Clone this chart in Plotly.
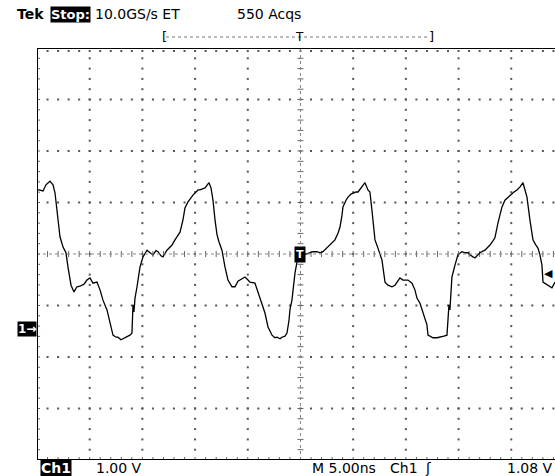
import plotly.graph_objects as go

# ---- acquisition settings (from the readout) ----
TIME_PER_DIV_NS = 5.0
VOLTS_PER_DIV = 1.0
CH1_POSITION_DIV = -1.456      # channel-1 ground marker, divisions from centre
TRIGGER_LEVEL_V = 1.08
X_RANGE_NS = [-25.0, 24.15]    # visible part of the 10-division record
Y_RANGE_DIV = [-4.0, 4.0]

# ---- channel 1 waveform ----
time_ns = [
    -25.00, -24.81, -24.43, -24.15, -23.77, -23.48, -23.29, -23.10, -22.82, -22.53,
    -22.25, -22.06, -21.77, -21.49, -21.21, -20.92, -20.54, -20.26, -19.97, -19.69,
    -19.31, -19.02, -18.74, -18.36, -18.07, -17.79, -17.50, -17.32, -17.03, -16.84,
    -16.46, -16.18, -15.99, -15.89, -15.80, -15.70, -15.51, -15.23, -14.94, -14.56,
    -14.28, -13.99, -13.71, -13.52, -13.24, -13.05, -12.67, -12.19, -11.91, -11.43,
    -11.15, -10.96, -10.67, -10.20, -9.72, -9.54, -9.06, -8.68,
    -8.49, -8.30, -8.11, -7.92, -7.73, -7.45, -7.16, -6.88, -6.50, -6.21,
    -5.93, -5.55, -5.27, -4.98, -4.79, -4.32, -4.03, -3.65, -3.37, -3.08,
    -2.70, -2.42, -2.23, -1.94, -1.76, -1.47, -1.28, -1.09, -1.00, -0.81,
    -0.52, -0.24, 0.05, 0.24, 0.62, 0.90, 1.19, 1.57, 1.85, 2.13,
    2.61, 2.99, 3.27, 3.56, 3.75, 3.94, 4.03, 4.32, 4.51, 4.79,
    4.98, 5.27, 5.46, 5.74, 5.93, 6.12,
    6.40, 6.59, 6.78, 7.07, 7.35, 7.73, 8.02, 8.30, 8.68, 8.97,
    9.44, 9.72, 10.20, 10.58, 10.86, 11.05, 11.34, 11.62, 12.00, 12.10,
    12.38, 12.57, 12.95, 13.24, 13.61, 13.90, 13.99, 14.09, 14.18, 14.28,
    14.37, 14.66, 14.94, 15.32, 15.61, 15.89, 16.08, 16.37, 16.56, 16.84,
    17.03, 17.50, 17.98, 18.26, 18.45, 18.74, 19.12, 19.40, 19.88, 20.26,
    20.54, 20.83, 21.11,
    21.30, 21.49, 21.77, 22.06, 22.34, 22.53, 22.72, 22.91, 23.01, 23.29,
    23.48, 23.86, 24.15,
]
ch1_volts = [
    2.70, 2.70, 2.68, 2.80, 2.87, 2.80, 2.64, 2.25, 1.79, 1.59,
    1.48, 1.20, 0.85, 0.72, 0.82, 0.83, 0.87, 0.95, 0.99, 0.89,
    0.91, 0.76, 0.56, 0.37, 0.14, -0.12, -0.16, -0.16, -0.21, -0.19,
    -0.14, -0.12, -0.08, 0.47, 0.33, 0.60, 0.82, 1.20, 1.40, 1.53,
    1.48, 1.44, 1.52, 1.50, 1.42, 1.40, 1.53, 1.63, 1.73, 1.88,
    2.12, 2.35, 2.47, 2.60, 2.70, 2.70, 2.74, 2.84,
    2.74, 2.50, 2.12, 1.83, 1.69, 1.53, 1.20, 0.95, 0.82, 0.82,
    0.93, 0.97, 1.01, 0.95, 0.91, 0.89, 0.70, 0.50, 0.31, 0.04,
    -0.12, -0.17, -0.16, -0.19, -0.16, -0.14, -0.08, 0.17, 0.37, 0.56,
    1.09, 1.40, 1.42, 1.44, 1.46, 1.48, 1.50, 1.50, 1.48, 1.50,
    1.59, 1.67, 1.73, 1.86, 1.98, 2.21, 2.37, 2.50, 2.56, 2.62,
    2.64, 2.66, 2.66, 2.74, 2.80, 2.84,
    2.70, 2.66, 2.31, 1.73, 1.57, 1.34, 0.91, 0.85, 0.82, 0.85,
    0.99, 0.95, 0.95, 0.89, 0.76, 0.60, 0.50, 0.31, 0.08, -0.12,
    -0.16, -0.17, -0.17, -0.16, -0.14, -0.12, 0.23, 0.47, 0.37, 0.76,
    1.01, 1.24, 1.44, 1.50, 1.48, 1.48, 1.44, 1.40, 1.38, 1.44,
    1.48, 1.53, 1.63, 1.71, 1.77, 2.06, 2.37, 2.50, 2.60, 2.66,
    2.70, 2.76, 2.84,
    2.70, 2.56, 2.12, 1.73, 1.63, 1.57, 1.44, 1.24, 0.91, 0.87,
    0.85, 0.80, 0.91,
]

# ---- readout texts ----
header_brand = "Tek"
header_state = "Stop:"
header_rate = "10.0GS/s ET"
header_acqs = "550 Acqs"
footer_channel = "Ch1"
footer_scale = "1.00 V"
footer_timebase = "M 5.00ns"
footer_trig_src = "Ch1"
footer_trig_slope = "\u0283"
footer_trig_level = "1.08 V"

W, H = 555, 476
ML, MR, MT, MB = 37, 0, 48, 16
FONT = "DejaVu Sans"

fig = go.Figure()

ns_per_div = TIME_PER_DIV_NS
x0, x1 = X_RANGE_NS
y0, y1 = Y_RANGE_DIV
px_per_ns = (W - ML - MR) / (x1 - x0)
px_per_div_y = (H - MT - MB) / (y1 - y0)
tick_ns = 3.0 / px_per_ns
tick_div = 3.0 / px_per_div_y

# graticule dots
gx, gy = [], []
for k in range(-4, 5):
    if k == 0:
        continue
    for j in range(-19, 20):
        gx.append(k * ns_per_div)
        gy.append(j * 0.2)
for k in range(-3, 4):
    if k == 0:
        continue
    for i in range(-24, 25):
        gx.append(i * ns_per_div / 5)
        gy.append(k)
for i in range(-24, 25):
    gx.append(i * ns_per_div / 5)
    gy.append(y1 - tick_div)
fig.add_trace(go.Scatter(x=gx, y=gy, mode="markers",
                         marker=dict(symbol="square", size=2, color="#555555", line=dict(width=0)),
                         hoverinfo="skip", showlegend=False))

# centre-line and frame minor ticks
tx, ty = [], []
for i in range(-24, 25):
    t = i * ns_per_div / 5
    tx += [t, t, None]
    ty += [-tick_div, tick_div, None]
    tx += [t, t, None]
    ty += [y0, y0 + tick_div, None]
for j in range(-19, 20):
    v = j * 0.2
    tx += [-tick_ns, tick_ns, None]
    ty += [v, v, None]
    tx += [x0, x0 + tick_ns, None]
    ty += [v, v, None]
fig.add_trace(go.Scatter(x=tx, y=ty, mode="lines", line=dict(color="#666666", width=1),
                         hoverinfo="skip", showlegend=False))

shapes = []
shapes.append(dict(type="line", xref="x", yref="y", x0=x0, x1=x1, y0=0, y1=0,
                   line=dict(color="#888888", width=1, dash="dot")))
shapes.append(dict(type="line", xref="x", yref="y", x0=0, x1=0, y0=y0, y1=y1,
                   line=dict(color="#888888", width=1, dash="dot")))
for xa, xb, ya, yb in [(x0, x1, y1, y1), (x0, x1, y0, y0), (x0, x0, y0, y1)]:
    shapes.append(dict(type="line", xref="x", yref="y", x0=xa, x1=xb, y0=ya, y1=yb,
                       line=dict(color="black", width=2)))

# waveform
trace_y = [v / VOLTS_PER_DIV + CH1_POSITION_DIV for v in ch1_volts]
fig.add_trace(go.Scatter(x=time_ns, y=trace_y, mode="lines",
                         line=dict(color="black", width=1.3),
                         hoverinfo="skip", showlegend=False))

def px_x(px):
    return (px - ML) / (W - ML - MR)

def px_y(py):
    return (H - MB - py) / (H - MT - MB)

ann = []
def txt(text, px, py, size=14, color="black", bg=None, bold=False, anchor="left"):
    ann.append(dict(text=("<b>%s</b>" % text) if bold else text, xref="paper", yref="paper",
                    x=px_x(px), y=px_y(py), xanchor=anchor, yanchor="middle", showarrow=False,
                    font=dict(family=FONT, size=size, color=color),
                    bgcolor=bg, borderpad=0))

txt(header_brand, 16, 14, bold=True)
txt(header_state, 50, 14, size=13, color="white", bg="black", bold=True)
txt(header_rate, 94, 14)
txt(header_acqs, 236, 14)

# record view bracket
shapes.append(dict(type="line", xref="paper", yref="paper", x0=px_x(166), x1=px_x(429),
                   y0=px_y(37), y1=px_y(37), line=dict(color="#777777", width=1, dash="dot")))
txt("[", 161, 37, size=13)
txt("]", 428, 37, size=13)
txt("T", 299, 37, size=12, anchor="center")

txt(footer_channel, 40, 468, size=14, color="white", bg="black", bold=True)
txt(footer_scale, 95, 468)
txt(footer_timebase, 311, 468)
txt(footer_trig_src, 389, 468)
txt(footer_trig_slope, 424, 468)
txt(footer_trig_level, 506, 468)

# channel ground marker and trigger markers
ann.append(dict(text="<b>1\u2192</b>", xref="paper", yref="y", x=0, y=CH1_POSITION_DIV,
                xanchor="right", yanchor="middle", showarrow=False, bgcolor="black",
                font=dict(family=FONT, size=12, color="white"), borderpad=0))
ann.append(dict(text="<b>T</b>", xref="x", yref="y", x=0, y=0, xanchor="center", yanchor="middle",
                showarrow=False, bgcolor="black", font=dict(family=FONT, size=11, color="white"),
                borderpad=1))
ann.append(dict(text="\u25C0", xref="paper", yref="y", x=1, y=TRIGGER_LEVEL_V / VOLTS_PER_DIV + CH1_POSITION_DIV,
                xanchor="right", yanchor="middle", showarrow=False,
                font=dict(family=FONT, size=11, color="black")))

fig.update_layout(
    width=W, height=H,
    margin=dict(l=ML, r=MR, t=MT, b=MB, pad=0),
    paper_bgcolor="white", plot_bgcolor="white",
    xaxis=dict(range=X_RANGE_NS, visible=False, showgrid=False, zeroline=False, fixedrange=True),
    yaxis=dict(range=Y_RANGE_DIV, visible=False, showgrid=False, zeroline=False, fixedrange=True),
    shapes=shapes, annotations=ann, showlegend=False,
)

fig.write_html("out.html", config={"displayModeBar": False},
               post_script="document.body.style.margin='0';document.body.style.overflow='hidden';")
